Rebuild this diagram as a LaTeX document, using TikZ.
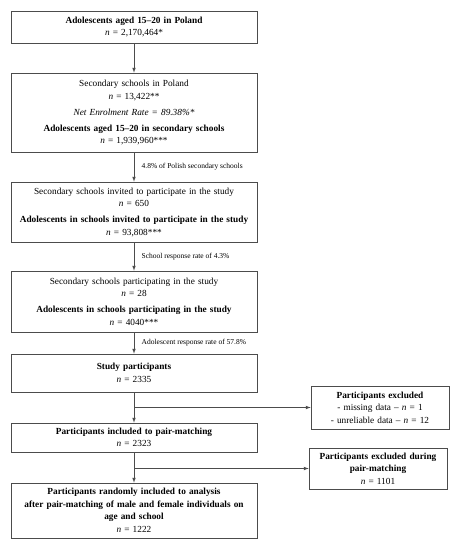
\documentclass[tikz,border=0pt]{standalone}
\usepackage{fontspec}
\setmainfont{Liberation Serif}
\usetikzlibrary{positioning}

\begin{document}
\begin{tikzpicture}[x=1pt, y=-1pt,
	box/.style={draw=black!70, line width=0.7pt, text width=242pt, inner sep=2pt, align=center, font=\fontsize{9.3}{12.5}\selectfont},
	sidebox/.style={box, text width=134pt},
	arr/.style={-latex, draw=black!70, line width=0.7pt},
	lbl/.style={font=\fontsize{7.5}{8}\selectfont, right=4pt}]
	\useasboundingbox (0,0) rectangle (459,550);
	% main column
	\node[box, minimum height=32pt] (pop) at (134,27) {\textbf{Adolescents aged 15--20 in Poland}\\ \textit{n} = 2,170,464*};
	\node[box, minimum height=79pt] (sec) at (134,112.5) {Secondary schools in Poland\\ \textit{n} = 13,422**\\[3.5pt] \textit{Net Enrolment Rate = 89.38\%*}\\[3.5pt] \textbf{Adolescents aged 15--20 in secondary schools}\\ \textit{n} = 1,939,960***};
	\node[box, minimum height=60pt] (inv) at (134,212) {Secondary schools invited to participate in the study\\ \textit{n} = 650\\[3.5pt] \textbf{Adolescents in schools invited to participate in the study}\\ \textit{n} = 93,808***};
	\node[box, minimum height=61pt] (prt) at (134,301.5) {Secondary schools participating in the study\\ \textit{n} = 28\\[3.5pt] \textbf{Adolescents in schools participating in the study}\\ \textit{n} = 4040***};
	\node[box, minimum height=38pt] (stu) at (134,373) {\textbf{Study participants}\\ \textit{n} = 2335};
	\node[box, minimum height=29pt] (pm) at (134,437.5) {\textbf{Participants included to pair-matching}\\ \textit{n} = 2323};
	\node[box, minimum height=55pt] (fin) at (134,510.5) {\textbf{Participants randomly included to analysis\\ after pair-matching of male and female individuals on\\ age and school}\\ \textit{n} = 1222};
	% exclusions
	\node[sidebox, minimum height=43pt] (exc) at (380,407.5) {\textbf{Participants excluded}\\ - missing data -- \textit{n} = 1\\ - unreliable data -- \textit{n} = 12};
	\node[sidebox, minimum height=41pt] (exm) at (378,468.5) {\textbf{Participants excluded during\\ pair-matching}\\ \textit{n} = 1101};

	\draw[arr] (pop) -- (sec);
	\draw[arr] (sec) -- node[lbl] (l1) {4.8\% of Polish secondary schools} (inv);
	\draw[arr] (inv) -- node[lbl] (l2) {School response rate of 4.3\%} (prt);
	\draw[arr] (prt) -- node[lbl] (l3) {Adolescent response rate of 57.8\%} (stu);
	\draw[arr] (stu) -- (pm);
	\draw[arr] (pm) -- (fin);
	\coordinate (b1) at (stu.south |- exc.west);
	\coordinate (b2) at (pm.south |- exm.west);
	\draw[arr] (b1) -- (exc);
	\draw[arr] (b2) -- (exm);
\end{tikzpicture}
\end{document}
